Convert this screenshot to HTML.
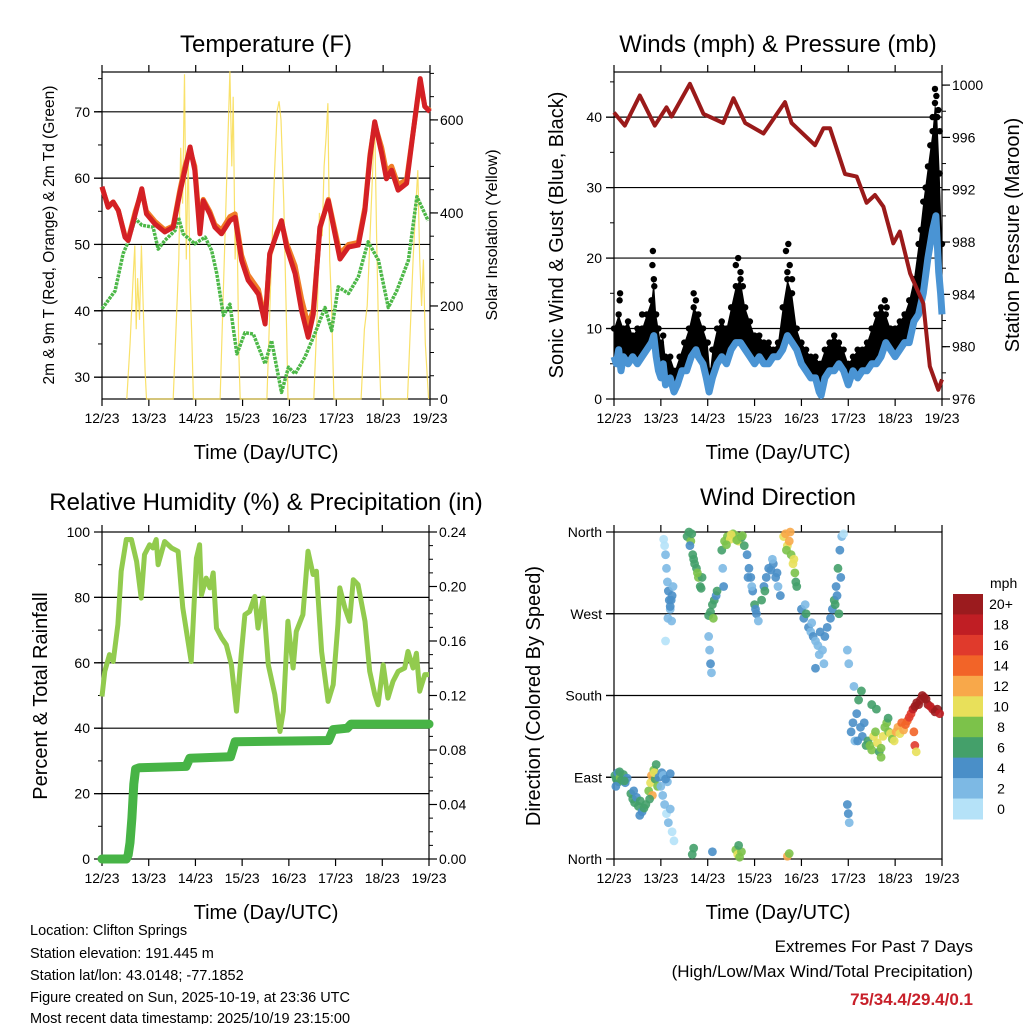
<!DOCTYPE html>
<html><head><meta charset="utf-8"><style>
html,body{margin:0;padding:0;background:#fff}
svg{display:block;font-family:"Liberation Sans",sans-serif}
</style></head><body>
<svg id="s" width="1024" height="1024" viewBox="0 0 1024 1024" xmlns="http://www.w3.org/2000/svg">
<rect width="1024" height="1024" fill="#fff"/>
<g id="layer"></g>
<g font-size="24" text-anchor="middle" fill="#000">
<text x="266" y="52">Temperature (F)</text>
<text x="778" y="52">Winds (mph) &amp; Pressure (mb)</text>
<text x="266" y="510">Relative Humidity (%) &amp; Precipitation (in)</text>
<text x="778" y="505">Wind Direction</text>
</g>
<g font-size="20" text-anchor="middle">
<text x="266" y="459">Time (Day/UTC)</text>
<text x="778" y="459">Time (Day/UTC)</text>
<text x="266" y="919">Time (Day/UTC)</text>
<text x="778" y="919">Time (Day/UTC)</text>
<text transform="translate(54,235) rotate(-90)" font-size="15.5">2m &amp; 9m T (Red, Orange) &amp; 2m Td (Green)</text>
<text transform="translate(497,235) rotate(-90)" font-size="16">Solar Insolation (Yellow)</text>
<text transform="translate(563,235) rotate(-90)">Sonic Wind &amp; Gust (Blue, Black)</text>
<text transform="translate(1019,235) rotate(-90)">Station Pressure (Maroon)</text>
<text transform="translate(47,696) rotate(-90)">Percent &amp; Total Rainfall</text>
<text transform="translate(540,696) rotate(-90)">Direction (Colored By Speed)</text>
</g>
<g font-size="14.5">
<text x="30" y="935">Location: Clifton Springs</text>
<text x="30" y="958">Station elevation: 191.445 m</text>
<text x="30" y="980">Station lat/lon: 43.0148; -77.1852</text>
<text x="30" y="1002">Figure created on Sun, 2025-10-19, at 23:36 UTC</text>
<text x="30" y="1023">Most recent data timestamp: 2025/10/19 23:15:00</text>
</g>
<g font-size="17" text-anchor="end">
<text x="973" y="952">Extremes For Past 7 Days</text>
<text x="973" y="977">(High/Low/Max Wind/Total Precipitation)</text>
<text x="973" y="1005" font-weight="bold" fill="#c8202a">75/34.4/29.4/0.1</text>
</g>
</svg>
<script>
// ---------- data ----------
const dayLabels=["12/23","13/23","14/23","15/23","16/23","17/23","18/23","19/23"];
const tempTicks=[30,40,50,60,70];
const solarTicks=[0,200,400,600];
const windTicks=[0,10,20,30,40];
const pressTicks=[976,980,984,988,992,996,1000];
const rhTicks=[0,20,40,60,80,100];
const precipTicks=[0,0.04,0.08,0.12,0.16,0.20,0.24];
const dirTicks=[0,90,180,270,360];
const dirLabels=["North","East","South","West","North"];
const spdLabels=["0","2","4","6","8","10","12","14","16","18","20+"];

const tempRed=[[0,58.7],[0.13,55.6],[0.24,56.4],[0.35,55.1],[0.49,51.1],[0.56,50.6],[0.71,54.6],[0.85,58.4],[0.95,54.6],[1.13,53.1],[1.34,51.9],[1.52,52.6],[1.66,57.7],[1.77,61.2],[1.88,64.7],[1.98,61.2],[2.09,51.6],[2.16,56.6],[2.3,54.6],[2.41,52.6],[2.55,51.6],[2.73,53.6],[2.84,54.1],[2.98,47.6],[3.12,44.6],[3.34,42.5],[3.48,38.0],[3.58,48.6],[3.73,51.6],[3.83,53.6],[3.94,49.6],[4.12,45.6],[4.26,40.0],[4.4,36.0],[4.51,39.5],[4.65,52.6],[4.83,56.6],[4.97,51.6],[5.08,47.8],[5.26,49.6],[5.47,49.9],[5.61,55.1],[5.72,63.2],[5.82,68.5],[5.97,63.7],[6.07,59.9],[6.18,61.2],[6.32,58.2],[6.5,59.2],[6.61,65.2],[6.72,71.3],[6.79,75.0],[6.89,70.8],[7.0,70.0]];
const tempOrange=[[0,58.6],[0.13,55.8],[0.24,56.4],[0.35,55.1],[0.49,51.3],[0.56,50.8],[0.71,55.0],[0.85,58.0],[0.95,55.0],[1.13,53.5],[1.34,52.2],[1.52,52.8],[1.66,58.2],[1.77,61.8],[1.88,64.2],[1.98,61.8],[2.09,52.5],[2.16,56.8],[2.3,55.0],[2.41,53.0],[2.55,52.2],[2.73,54.2],[2.84,54.6],[2.98,48.4],[3.12,45.4],[3.34,43.2],[3.48,38.6],[3.58,48.4],[3.73,51.8],[3.83,53.4],[3.94,50.2],[4.12,46.8],[4.26,41.8],[4.4,37.8],[4.51,40.2],[4.65,52.4],[4.83,56.8],[4.97,52.2],[5.08,48.6],[5.26,50.0],[5.47,50.3],[5.61,55.6],[5.72,63.6],[5.82,68.2],[5.97,64.6],[6.07,61.0],[6.18,61.8],[6.32,59.0],[6.5,59.8],[6.61,65.4],[6.72,71.0],[6.79,74.6],[6.89,70.8],[7.0,70.2]];
const dewGreen=[[0,40.3],[0.28,43.0],[0.45,48.6],[0.56,50.4],[0.71,53.9],[0.85,52.9],[1.09,52.6],[1.2,49.3],[1.34,50.6],[1.56,52.1],[1.63,54.1],[1.73,51.6],[1.98,50.1],[2.2,51.1],[2.34,49.1],[2.45,45.6],[2.59,39.3],[2.73,41.0],[2.88,33.5],[3.05,36.7],[3.23,36.5],[3.48,32.0],[3.62,35.5],[3.83,27.7],[3.98,31.5],[4.12,30.5],[4.33,33.0],[4.54,36.5],[4.76,40.5],[4.9,37.0],[5.04,43.6],[5.26,42.6],[5.47,45.1],[5.68,50.4],[5.9,47.6],[6.11,40.5],[6.29,43.0],[6.54,47.6],[6.72,57.2],[6.96,53.6]];
const solar=[[0.53,0],[0.6,120],[0.66,250],[0.7,330],[0.73,150],[0.76,260],[0.8,170],[0.84,330],[0.88,200],[0.92,60],[0.95,0],[1.52,0],[1.58,150],[1.64,300],[1.68,540],[1.72,420],[1.76,698],[1.8,300],[1.84,520],[1.88,250],[1.92,120],[1.95,0],[2.52,0],[2.58,200],[2.64,400],[2.7,600],[2.73,705],[2.77,500],[2.8,650],[2.84,300],[2.88,400],[2.92,100],[2.95,0],[3.52,0],[3.6,250],[3.68,480],[3.74,620],[3.78,640],[3.82,600],[3.88,420],[3.94,150],[3.97,0],[4.52,0],[4.6,200],[4.64,400],[4.7,350],[4.74,500],[4.78,560],[4.82,636],[4.86,300],[4.9,200],[4.95,0],[5.53,0],[5.6,150],[5.66,200],[5.7,300],[5.76,450],[5.82,600],[5.86,350],[5.9,150],[5.95,0],[6.52,0],[6.58,150],[6.64,300],[6.7,420],[6.74,492],[6.78,300],[6.82,200],[6.86,300],[6.9,120],[6.94,50],[6.97,0]];

const pressure=[[0,997.9],[0.23,996.9],[0.55,999.2],[0.87,996.9],[1.12,998.3],[1.23,997.6],[1.62,1000.1],[1.91,997.8],[2.33,997.1],[2.55,999.0],[2.8,997.1],[3.19,996.3],[3.65,998.7],[3.79,997.1],[4.29,995.4],[4.47,996.7],[4.61,996.7],[4.93,993.2],[5.18,993.0],[5.39,991.0],[5.57,991.6],[5.75,990.7],[5.96,987.9],[6.1,988.8],[6.32,985.6],[6.6,983.3],[6.74,978.5],[6.92,976.7],[7.0,977.5]];
const wind=[[0,6],[0.05,5],[0.1,7],[0.15,4],[0.2,6],[0.3,5],[0.4,6],[0.5,5],[0.6,6],[0.7,7],[0.8,8],[0.85,9],[0.9,6],[0.95,4],[1.0,3],[1.05,5],[1.1,2],[1.2,3],[1.28,1],[1.35,2],[1.45,4],[1.55,4],[1.65,6],[1.75,7],[1.8,6],[1.9,5],[1.97,3],[2.03,1],[2.1,3],[2.2,5],[2.3,6],[2.4,5],[2.5,7],[2.6,8],[2.7,8],[2.8,7],[2.9,6],[3.0,5],[3.1,6],[3.2,5],[3.3,5],[3.4,6],[3.5,6],[3.6,7],[3.7,9],[3.8,8],[3.9,7],[4.0,5],[4.1,4],[4.2,3],[4.3,3],[4.38,1],[4.42,0.5],[4.5,3],[4.6,4],[4.7,4],[4.8,5],[4.9,4],[5.0,2],[5.1,4],[5.2,3],[5.3,4],[5.4,4],[5.5,5],[5.6,5],[5.7,6],[5.8,8],[5.9,7],[6.0,6],[6.1,7],[6.2,8],[6.3,8],[6.4,11],[6.5,12],[6.6,15],[6.7,20],[6.8,24],[6.87,26],[6.93,18],[6.97,15],[7.0,12]];
const gust=[[0,10],[0.1,12],[0.2,10],[0.3,11],[0.4,9],[0.5,10],[0.6,10],[0.7,12],[0.8,14],[0.85,17],[0.9,12],[0.95,10],[1.0,8],[1.05,9],[1.1,6],[1.2,6],[1.3,4],[1.4,6],[1.5,8],[1.6,10],[1.7,13],[1.8,12],[1.9,10],[2.0,8],[2.05,4],[2.1,7],[2.2,10],[2.3,11],[2.4,10],[2.5,13],[2.6,16],[2.7,17],[2.8,13],[2.9,11],[3.0,9],[3.1,9],[3.2,8],[3.3,8],[3.4,7],[3.5,8],[3.6,13],[3.7,17],[3.8,15],[3.9,10],[4.0,8],[4.1,7],[4.2,6],[4.3,6],[4.4,5],[4.5,7],[4.6,8],[4.7,9],[4.8,8],[4.9,7],[5.0,5],[5.1,6],[5.2,7],[5.3,7],[5.4,8],[5.5,10],[5.6,12],[5.7,13],[5.8,12],[5.9,10],[6.0,10],[6.1,11],[6.2,12],[6.3,14],[6.4,17],[6.5,22],[6.6,28],[6.7,33],[6.8,38],[6.85,42],[6.9,40],[6.95,32],[7.0,22]];
const gustPeaks=[[0.13,15],[0.12,14],[0.82,19],[0.83,21],[0.86,16],[0.6,12],[1.7,15],[1.75,14],[2.6,19],[2.65,20],[2.7,18],[2.75,16],[3.72,22],[3.67,21],[3.75,19],[3.7,18],[3.8,17],[5.78,14],[5.82,13],[6.55,24],[6.65,30],[6.75,36],[6.85,44],[6.88,43],[6.92,41],[6.95,38],[6.8,40]];

const rh=[[0,49.7],[0.06,57.4],[0.16,62.5],[0.24,60.4],[0.34,71.7],[0.41,88.0],[0.52,97.7],[0.63,97.7],[0.74,91.0],[0.84,79.8],[0.91,93.1],[1.02,96.1],[1.09,95.1],[1.16,97.7],[1.2,90.0],[1.34,97.1],[1.49,95.1],[1.63,94.1],[1.73,76.8],[1.84,66.6],[1.91,60.4],[2.02,92.0],[2.09,96.1],[2.13,80.8],[2.23,85.9],[2.31,82.9],[2.38,87.5],[2.45,70.6],[2.56,67.6],[2.66,65.5],[2.77,59.4],[2.88,45.2],[2.98,62.5],[3.06,74.7],[3.16,75.7],[3.27,80.3],[3.34,70.6],[3.45,79.8],[3.56,59.4],[3.7,50.3],[3.81,39.0],[3.88,45.2],[3.98,72.7],[4.09,58.4],[4.16,69.6],[4.3,74.7],[4.41,94.1],[4.52,87.0],[4.59,88.0],[4.7,63.5],[4.84,48.2],[4.95,53.3],[5.05,71.7],[5.09,82.9],[5.2,76.8],[5.3,72.7],[5.38,85.4],[5.48,83.9],[5.63,72.7],[5.73,57.4],[5.84,50.3],[5.91,47.2],[6.02,59.4],[6.12,49.2],[6.23,54.3],[6.34,57.4],[6.48,58.4],[6.55,63.5],[6.66,58.4],[6.73,62.9],[6.8,51.3],[6.91,56.4],[7.0,56.4]];
const precip=[[0,0],[0.52,0],[0.56,0.003],[0.6,0.012],[0.64,0.03],[0.68,0.055],[0.72,0.066],[0.8,0.067],[1.8,0.068],[1.88,0.074],[2.75,0.075],[2.85,0.086],[4.85,0.087],[4.95,0.095],[5.25,0.096],[5.33,0.099],[7,0.099]];

const wdDay=[0.02,0.05,0.08,0.1,0.13,0.16,0.2,0.24,0.28,0.04,0.12,0.22,
0.36,0.4,0.44,0.48,0.52,0.56,0.6,0.64,0.68,0.42,0.55,
0.74,0.78,0.8,0.82,0.85,0.88,0.9,0.93,0.76,0.86,
0.96,1.0,1.04,1.08,1.12,1.16,1.2,1.24,1.28,1.02,1.14,1.05,1.1,1.2,
1.06,1.08,1.1,1.12,1.14,1.16,1.18,1.2,1.22,1.24,1.26,1.15,1.2,1.23,1.1,
1.56,1.6,1.64,1.68,1.72,1.76,1.8,1.84,1.88,1.62,1.7,1.78,1.86,1.66,1.67,1.7,
2.02,2.06,2.1,2.14,2.18,2.12,2.2,2.02,2.04,2.06,2.08,2.1,
2.3,2.36,2.42,2.48,2.54,2.6,2.66,2.72,2.78,2.84,2.88,2.4,2.5,2.62,2.74,2.32,2.34,2.86,2.6,2.64,2.68,2.72,2.66,
2.92,2.96,3.0,3.04,3.08,2.94,3.02,
3.15,3.2,3.25,3.3,3.35,3.4,3.45,3.5,3.55,3.22,3.38,3.48,
3.62,3.66,3.7,3.74,3.78,3.82,3.86,3.9,3.68,3.76,3.84,3.88,3.7,3.74,
4.0,4.05,4.1,4.15,4.2,4.25,4.3,4.35,4.4,4.45,4.5,4.55,4.08,4.22,4.38,4.48,4.3,
4.62,4.66,4.7,4.74,4.78,4.82,4.86,4.9,4.72,4.8,4.84,4.76,
4.98,5.0,5.02,4.98,5.01,
5.06,5.1,5.14,5.18,5.22,5.26,5.3,5.34,5.38,5.12,5.28,5.2,
5.42,5.46,5.5,5.54,5.58,5.62,5.66,5.7,5.74,5.78,5.82,5.86,5.9,5.94,5.98,5.5,5.6,5.7,5.85,
6.02,6.06,6.1,6.14,6.18,6.22,6.26,6.3,
6.34,6.38,6.42,6.46,6.5,6.54,6.58,6.62,6.66,6.7,6.75,6.8,6.85,6.9,6.95,6.4,6.42,6.45];
const wdDir=[92,88,95,85,90,87,93,84,89,80,96,86,
72,66,62,68,58,64,52,56,60,75,48,
75,84,92,70,98,88,104,80,66,95,
90,80,70,60,50,40,55,30,20,95,85,92,88,94,
352,345,335,320,305,295,285,275,285,290,300,265,278,262,240,
355,360,350,335,325,320,310,300,310,345,330,315,298,358,5,12,
268,272,280,285,290,265,295,245,230,215,205,8,
340,350,355,352,358,356,350,354,345,335,320,346,357,351,356,320,300,310,10,5,2,8,15,
310,295,280,270,262,300,275,
285,300,310,320,318,325,310,300,290,295,330,315,
355,358,345,350,335,325,315,300,340,360,330,305,3,6,
275,265,270,255,250,245,240,235,250,230,245,255,280,260,225,215,210,
265,275,285,300,320,340,355,358,280,270,310,290,
60,50,40,230,215,
140,150,130,160,175,145,135,150,125,190,185,130,
130,125,120,135,140,128,118,122,135,145,150,140,138,132,130,170,165,112,155,
140,145,138,150,142,148,152,156,
160,165,168,172,170,175,180,178,176,170,168,165,162,165,160,140,125,118];
const wdSpd=[6,7,5,6,8,6,7,5,4,5,7,6,
6,7,6,5,7,6,4,7,6,4,5,
8,10,13,12,9,7,6,8,7,11,
4,3,2,3,1,2,3,1,0,4,3,3,4,5,
1,1,2,2,3,4,4,3,4,4,3,2,4,2,0,
6,7,8,6,7,6,8,7,6,5,7,9,6,7,6,6,
7,6,6,7,5,8,6,3,2,4,2,4,
6,8,9,10,9,8,10,7,6,5,4,9,11,8,9,3,4,5,9,10,8,9,6,
4,5,6,4,3,3,5,
6,5,5,4,4,5,4,3,4,6,3,5,
11,13,10,12,9,10,8,7,9,12,11,6,12,9,
4,5,6,4,3,4,3,2,4,3,4,5,3,2,2,3,4,
4,5,6,5,6,5,2,1,7,6,4,5,
4,4,3,2,2,
4,4,3,5,6,4,4,5,6,3,7,5,
7,8,9,10,8,11,7,9,10,8,9,8,10,9,11,6,7,8,7,
12,13,11,14,13,15,14,16,
17,19,20,22,21,23,24,22,21,20,19,18,20,21,19,15,17,10];
const spdColors=["#b5e2f8","#7db9e4","#4a8fc8","#44a06a","#7cc24a","#e8e05a","#f8a84a","#f26428","#e03a2c","#c01e24","#9b1b1e"];

// ---------- drawing ----------
const NS="http://www.w3.org/2000/svg";
const layer=document.getElementById('layer');
function mk(tag,attrs,parent){const e=document.createElementNS(NS,tag);for(const k in attrs)e.setAttribute(k,attrs[k]);(parent||layer).appendChild(e);return e;}
function panel(x0,x1,y0,y1,lmin,lmax,rmin,rmax){
  return {x0,x1,y0,y1,
    sx:d=>x0+d/7*(x1-x0),
    sy:v=>y1-(v-lmin)/(lmax-lmin)*(y1-y0),
    ry:v=>y1-(v-rmin)/(rmax-rmin)*(y1-y0)};
}
const P1=panel(102,430,72,399,26.7,76,0,703);
const P2=panel(614,942,72,399,0,46.4,976,1001);
const P3=panel(102,429,532,859,0,100,0,0.24);
const P4=panel(614,942,532,859,0,360,0,360);
function pathOf(arr,fx,fy){return arr.map((p,i)=>(i?'L':'M')+fx(p[0]).toFixed(1)+' '+fy(p[1]).toFixed(1)).join(' ');}

function frame(P,name,leftT,leftLab,leftMinor,rightT,rightLab,rightMinor,useRight){
  const g=mk('g',{});
  
  
  leftT.forEach(v=>{const y=P.sy(v); if(y>P.y0+1&&y<P.y1-1){const l=mk('line',{x1:P.x0-8,x2:P.x1,y1:y,y2:y,stroke:'#000','stroke-width':1.2},g);
    
    }});
  const r=mk('rect',{x:P.x0,y:P.y0,width:P.x1-P.x0,height:P.y1-P.y0,fill:'none',stroke:'#000','stroke-width':1.2},g);
  
  
  dayLabels.forEach((lab,i)=>{const x=P.sx(i);
    mk('line',{x1:x,x2:x,y1:P.y1,y2:P.y1+7,stroke:'#000','stroke-width':1.2},g);
    mk('line',{x1:x,x2:x,y1:P.y0,y2:P.y0-7,stroke:'#000','stroke-width':1.2},g);
    const t=mk('text',{x:x,y:P.y1+24,'font-size':14,'text-anchor':'middle'},g);t.textContent=lab;
    
    });
  leftMinor.forEach(v=>{const y=P.sy(v);mk('line',{x1:P.x0-4,x2:P.x0,y1:y,y2:y,stroke:'#000','stroke-width':1},g);});
  leftT.forEach((v,i)=>{const y=P.sy(v);mk('line',{x1:P.x0-8,x2:P.x0,y1:y,y2:y,stroke:'#000','stroke-width':1.2},g);
    const t=mk('text',{x:P.x0-12,y:y+5,'font-size':14,'text-anchor':'end'},g);t.textContent=leftLab[i];
    
    });
  if(useRight){
    rightMinor.forEach(v=>{const y=P.ry(v);mk('line',{x1:P.x1,x2:P.x1+4,y1:y,y2:y,stroke:'#000','stroke-width':1},g);});
    rightT.forEach((v,i)=>{const y=P.ry(v);mk('line',{x1:P.x1,x2:P.x1+8,y1:y,y2:y,stroke:'#000','stroke-width':1.2},g);
      const t=mk('text',{x:P.x1+10,y:y+5,'font-size':14},g);t.textContent=rightLab[i];
      
      });
  }
}
function range(a,b,s){const o=[];for(let v=a;v<=b+1e-9;v+=s)o.push(+v.toFixed(4));return o;}

// Panel 1
frame(P1,'temp',tempTicks,tempTicks.map(String),range(30,75,5),solarTicks,solarTicks.map(String),range(0,700,50),true);
let e;
e=mk('path',{d:pathOf(solar,P1.sx,P1.ry),fill:'none',stroke:'#f8dc50','stroke-width':1.2,opacity:0.85});

e=mk('path',{d:pathOf(dewGreen,P1.sx,P1.sy),fill:'none',stroke:'#4db848','stroke-width':3.5,'stroke-dasharray':'3 1','stroke-linejoin':'round'});

e=mk('path',{d:pathOf(tempOrange,P1.sx,P1.sy),fill:'none',stroke:'#f07d28','stroke-width':5,'stroke-linejoin':'round'});

e=mk('path',{d:pathOf(tempRed,P1.sx,P1.sy),fill:'none',stroke:'#d42025','stroke-width':5,'stroke-linejoin':'round'});


// Panel 2
frame(P2,'winds',windTicks,windTicks.map(String),range(0,45,5),pressTicks,pressTicks.map(String),range(976,1000,2),true);
{const up=gust.map(p=>P2.sx(p[0]).toFixed(1)+','+P2.sy(p[1]).toFixed(1));
 const lo=wind.slice().reverse().map(p=>P2.sx(p[0]).toFixed(1)+','+P2.sy(p[1]).toFixed(1));
 e=mk('polygon',{points:up.concat(lo).join(' '),fill:'#000'});
 
 const gd=mk('g',{});
 gust.concat(gustPeaks).forEach(p=>{const c=mk('circle',{cx:P2.sx(p[0]),cy:P2.sy(p[1]),r:3.2,fill:'#000'},gd);
   
   });
}
e=mk('path',{d:pathOf(wind,P2.sx,P2.sy),fill:'none',stroke:'#4a94d4','stroke-width':7,'stroke-linejoin':'round'});

e=mk('path',{d:pathOf(pressure,P2.sx,P2.ry),fill:'none',stroke:'#9a1a1a','stroke-width':4,'stroke-linejoin':'round'});


// Panel 3
frame(P3,'rh',rhTicks,rhTicks.map(String),range(0,100,10),precipTicks,precipTicks.map(v=>v.toFixed(2)),range(0,0.24,0.01),true);
e=mk('path',{d:pathOf(rh,P3.sx,P3.sy),fill:'none',stroke:'#92cb4e','stroke-width':5,'stroke-linejoin':'round'});

e=mk('path',{d:pathOf(precip,P3.sx,P3.ry),fill:'none',stroke:'#47b446','stroke-width':9,'stroke-linejoin':'round','stroke-linecap':'round'});


// Panel 4
frame(P4,'wd',dirTicks,dirLabels,[],[],[],[],false);
{const gd=mk('g',{});
 wdDay.forEach((d,i)=>{const b=Math.min(10,Math.floor(wdSpd[i]/2));
  const c=mk('circle',{cx:P4.sx(d),cy:P4.sy(wdDir[i]),r:4.4,fill:spdColors[b],opacity:0.9},gd);
  
  });
}
// legend
{const g=mk('g',{});
 const t=mk('text',{x:990,y:588,'font-size':14},g);t.textContent='mph';
 
 const h=(819-594)/11;
 spdLabels.forEach((lab,i)=>{const k=10-i;const y=594+i*h;
  const r=mk('rect',{x:953,y:y,width:30,height:h+0.5,fill:spdColors[k]},g);
  
  
  const tt=mk('text',{x:1001,y:y+h/2+5,'font-size':14,'text-anchor':'middle'},g);tt.textContent=spdLabels[k];
  
  });
}
</script>
</body></html>
